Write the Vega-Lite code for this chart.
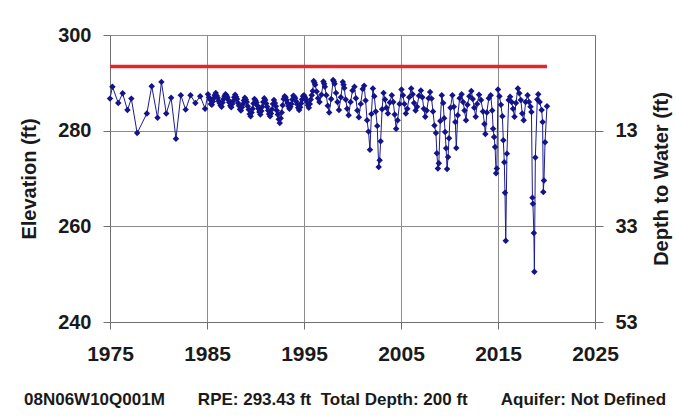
{
  "$schema": "https://vega.github.io/schema/vega-lite/v6.json",
  "autosize": "none",
  "width": 485,
  "height": 287,
  "padding": {"left": 110, "top": 35, "right": 81, "bottom": 95},
  "background": "white",
  "config": {
    "view": {"stroke": null},
    "axis": {
      "labelFont": "Liberation Sans",
      "labelFontWeight": "bold",
      "labelFontSize": 20,
      "labelColor": "#1a1a1a",
      "titleFont": "Liberation Sans",
      "titleFontWeight": "bold",
      "titleFontSize": 20,
      "titleColor": "#1a1a1a",
      "domainColor": "#707070",
      "tickColor": "#707070",
      "gridColor": "#8c8c8c",
      "gridOpacity": 1,
      "tickSize": 7,
      "labelFlush": false
    }
  },
  "title": {
    "text": "08N06W10Q001M\u00a0\u00a0\u00a0\u00a0\u00a0\u00a0\u00a0RPE: 293.43 ft\u00a0\u00a0Total Depth: 200 ft\u00a0\u00a0\u00a0\u00a0\u00a0\u00a0\u00a0Aquifer: Not Defined",
    "orient": "bottom",
    "anchor": "start",
    "frame": "group",
    "dx": -86,
    "offset": 28,
    "font": "Liberation Sans",
    "fontSize": 17,
    "fontWeight": "bold",
    "color": "#1a1a1a"
  },
  "datasets": {
    "levels": [
      {"t": 1975.0, "e": 286.7}, {"t": 1975.25, "e": 289.2}, {"t": 1975.85, "e": 285.8}, {"t": 1976.3, "e": 287.8},
      {"t": 1976.8, "e": 284.3}, {"t": 1977.2, "e": 286.7}, {"t": 1977.8, "e": 279.5}, {"t": 1978.8, "e": 283.6},
      {"t": 1979.3, "e": 289.3}, {"t": 1979.9, "e": 282.7}, {"t": 1980.3, "e": 290.2}, {"t": 1980.8, "e": 283.6},
      {"t": 1981.3, "e": 286.9}, {"t": 1981.8, "e": 278.3}, {"t": 1982.3, "e": 287.4}, {"t": 1982.8, "e": 284.4},
      {"t": 1983.3, "e": 287.4}, {"t": 1983.8, "e": 285.8}, {"t": 1984.3, "e": 287.2}, {"t": 1984.8, "e": 284.6},
      {"t": 1985.1, "e": 287.6}, {"t": 1985.2, "e": 287.0}, {"t": 1985.3, "e": 286.5}, {"t": 1985.4, "e": 285.6}, {"t": 1985.5, "e": 285.4}, {"t": 1985.6, "e": 286.1}, {"t": 1985.7, "e": 286.8}, {"t": 1985.8, "e": 287.4}, {"t": 1985.9, "e": 287.9},
      {"t": 1986.0, "e": 287.3}, {"t": 1986.1, "e": 286.9}, {"t": 1986.2, "e": 286.2}, {"t": 1986.3, "e": 285.8}, {"t": 1986.4, "e": 285.3}, {"t": 1986.5, "e": 285.0}, {"t": 1986.6, "e": 285.9}, {"t": 1986.7, "e": 286.6}, {"t": 1986.8, "e": 287.2}, {"t": 1986.9, "e": 287.6},
      {"t": 1987.0, "e": 287.4}, {"t": 1987.1, "e": 287.0}, {"t": 1987.2, "e": 286.4}, {"t": 1987.3, "e": 285.9}, {"t": 1987.4, "e": 285.2}, {"t": 1987.5, "e": 284.9}, {"t": 1987.6, "e": 285.6}, {"t": 1987.7, "e": 286.2}, {"t": 1987.8, "e": 287.0}, {"t": 1987.9, "e": 287.5},
      {"t": 1988.0, "e": 287.1}, {"t": 1988.1, "e": 286.6}, {"t": 1988.2, "e": 285.8}, {"t": 1988.3, "e": 285.2}, {"t": 1988.4, "e": 284.5}, {"t": 1988.5, "e": 284.2}, {"t": 1988.6, "e": 284.9}, {"t": 1988.7, "e": 285.5}, {"t": 1988.8, "e": 286.3}, {"t": 1988.9, "e": 286.9},
      {"t": 1989.0, "e": 286.5}, {"t": 1989.1, "e": 286.0}, {"t": 1989.2, "e": 285.1}, {"t": 1989.3, "e": 284.4}, {"t": 1989.4, "e": 283.5}, {"t": 1989.5, "e": 283.0}, {"t": 1989.6, "e": 283.8}, {"t": 1989.7, "e": 284.6}, {"t": 1989.8, "e": 285.7}, {"t": 1989.9, "e": 286.6},
      {"t": 1990.0, "e": 286.3}, {"t": 1990.1, "e": 285.9}, {"t": 1990.2, "e": 285.2}, {"t": 1990.3, "e": 284.6}, {"t": 1990.4, "e": 283.9}, {"t": 1990.5, "e": 283.4}, {"t": 1990.6, "e": 284.1}, {"t": 1990.7, "e": 285.0}, {"t": 1990.8, "e": 286.0}, {"t": 1990.9, "e": 286.8},
      {"t": 1991.0, "e": 286.4}, {"t": 1991.1, "e": 285.7}, {"t": 1991.2, "e": 285.0}, {"t": 1991.3, "e": 284.2}, {"t": 1991.4, "e": 283.5}, {"t": 1991.5, "e": 283.0}, {"t": 1991.6, "e": 283.6}, {"t": 1991.7, "e": 284.5}, {"t": 1991.8, "e": 285.6}, {"t": 1991.9, "e": 286.4},
      {"t": 1992.0, "e": 285.8}, {"t": 1992.1, "e": 285.1}, {"t": 1992.2, "e": 284.2}, {"t": 1992.3, "e": 283.4}, {"t": 1992.4, "e": 282.4}, {"t": 1992.5, "e": 281.6}, {"t": 1992.6, "e": 282.6}, {"t": 1992.7, "e": 283.8}, {"t": 1992.8, "e": 285.3}, {"t": 1992.9, "e": 286.6},
      {"t": 1993.0, "e": 287.2}, {"t": 1993.1, "e": 287.0}, {"t": 1993.2, "e": 286.4}, {"t": 1993.3, "e": 285.8}, {"t": 1993.4, "e": 285.1}, {"t": 1993.5, "e": 284.6}, {"t": 1993.6, "e": 285.0}, {"t": 1993.7, "e": 285.6}, {"t": 1993.8, "e": 286.5}, {"t": 1993.9, "e": 287.3},
      {"t": 1994.0, "e": 287.1}, {"t": 1994.1, "e": 286.8}, {"t": 1994.2, "e": 286.1}, {"t": 1994.3, "e": 285.5}, {"t": 1994.4, "e": 284.8}, {"t": 1994.5, "e": 284.3}, {"t": 1994.6, "e": 284.9}, {"t": 1994.7, "e": 285.7}, {"t": 1994.8, "e": 286.5}, {"t": 1994.9, "e": 287.2},
      {"t": 1995.0, "e": 287.4}, {"t": 1995.1, "e": 287.0}, {"t": 1995.2, "e": 286.5}, {"t": 1995.3, "e": 286.0}, {"t": 1995.4, "e": 285.3}, {"t": 1995.5, "e": 284.8}, {"t": 1995.6, "e": 285.6}, {"t": 1995.7, "e": 286.5}, {"t": 1995.8, "e": 287.4}, {"t": 1995.9, "e": 288.3},
      {"t": 1996.0, "e": 290.4}, {"t": 1996.08, "e": 290.0}, {"t": 1996.15, "e": 289.6}, {"t": 1996.3, "e": 288.2}, {"t": 1996.45, "e": 286.8}, {"t": 1996.6, "e": 286.0}, {"t": 1996.8, "e": 287.5},
      {"t": 1997.0, "e": 290.3}, {"t": 1997.08, "e": 289.8}, {"t": 1997.15, "e": 289.2}, {"t": 1997.3, "e": 287.4}, {"t": 1997.45, "e": 285.2}, {"t": 1997.6, "e": 283.8}, {"t": 1997.8, "e": 286.6},
      {"t": 1998.0, "e": 290.6}, {"t": 1998.08, "e": 290.3}, {"t": 1998.15, "e": 289.8}, {"t": 1998.3, "e": 287.9}, {"t": 1998.45, "e": 286.0}, {"t": 1998.6, "e": 284.3}, {"t": 1998.8, "e": 287.0},
      {"t": 1999.0, "e": 290.2}, {"t": 1999.08, "e": 289.6}, {"t": 1999.15, "e": 288.9}, {"t": 1999.3, "e": 286.5}, {"t": 1999.45, "e": 284.6}, {"t": 1999.6, "e": 283.2}, {"t": 1999.8, "e": 286.0},
      {"t": 2000.0, "e": 288.4}, {"t": 2000.2, "e": 289.2}, {"t": 2000.35, "e": 286.8}, {"t": 2000.5, "e": 284.2}, {"t": 2000.65, "e": 282.8}, {"t": 2000.85, "e": 285.6},
      {"t": 2001.05, "e": 288.7}, {"t": 2001.2, "e": 289.4}, {"t": 2001.35, "e": 286.3}, {"t": 2001.5, "e": 282.2}, {"t": 2001.65, "e": 279.8}, {"t": 2001.8, "e": 276.0}, {"t": 2001.95, "e": 283.5},
      {"t": 2002.1, "e": 288.8}, {"t": 2002.25, "e": 287.2}, {"t": 2002.4, "e": 284.0}, {"t": 2002.55, "e": 281.0}, {"t": 2002.7, "e": 272.4}, {"t": 2002.8, "e": 273.8}, {"t": 2002.9, "e": 277.8},
      {"t": 2003.05, "e": 284.5}, {"t": 2003.2, "e": 287.9}, {"t": 2003.35, "e": 286.5}, {"t": 2003.5, "e": 284.8}, {"t": 2003.65, "e": 283.6}, {"t": 2003.85, "e": 285.9},
      {"t": 2004.05, "e": 287.4}, {"t": 2004.2, "e": 286.0}, {"t": 2004.35, "e": 283.4}, {"t": 2004.5, "e": 280.4}, {"t": 2004.65, "e": 282.2}, {"t": 2004.85, "e": 285.6},
      {"t": 2005.05, "e": 288.6}, {"t": 2005.2, "e": 287.4}, {"t": 2005.35, "e": 285.6}, {"t": 2005.5, "e": 283.6}, {"t": 2005.65, "e": 284.6}, {"t": 2005.85, "e": 287.0},
      {"t": 2006.05, "e": 288.8}, {"t": 2006.2, "e": 287.6}, {"t": 2006.35, "e": 285.8}, {"t": 2006.5, "e": 284.2}, {"t": 2006.65, "e": 285.0}, {"t": 2006.85, "e": 287.3},
      {"t": 2007.05, "e": 288.4}, {"t": 2007.2, "e": 287.0}, {"t": 2007.35, "e": 284.6}, {"t": 2007.5, "e": 282.9}, {"t": 2007.65, "e": 284.2}, {"t": 2007.85, "e": 286.8},
      {"t": 2008.0, "e": 288.1}, {"t": 2008.15, "e": 286.7}, {"t": 2008.3, "e": 284.0}, {"t": 2008.45, "e": 281.1}, {"t": 2008.6, "e": 279.5}, {"t": 2008.7, "e": 275.3}, {"t": 2008.8, "e": 272.1}, {"t": 2008.9, "e": 273.2},
      {"t": 2009.05, "e": 282.0}, {"t": 2009.2, "e": 287.4}, {"t": 2009.35, "e": 285.8}, {"t": 2009.45, "e": 282.6}, {"t": 2009.55, "e": 279.7}, {"t": 2009.65, "e": 276.3}, {"t": 2009.75, "e": 272.0}, {"t": 2009.85, "e": 274.5}, {"t": 2009.95, "e": 278.4},
      {"t": 2010.1, "e": 284.8}, {"t": 2010.3, "e": 287.4}, {"t": 2010.45, "e": 285.0}, {"t": 2010.6, "e": 281.8}, {"t": 2010.7, "e": 276.4}, {"t": 2010.85, "e": 283.2},
      {"t": 2011.05, "e": 286.8}, {"t": 2011.25, "e": 287.6}, {"t": 2011.4, "e": 286.0}, {"t": 2011.55, "e": 284.2}, {"t": 2011.7, "e": 282.2}, {"t": 2011.85, "e": 285.4},
      {"t": 2012.05, "e": 287.2}, {"t": 2012.25, "e": 288.3}, {"t": 2012.4, "e": 286.6}, {"t": 2012.55, "e": 284.8}, {"t": 2012.7, "e": 282.9}, {"t": 2012.85, "e": 285.6},
      {"t": 2013.05, "e": 287.5}, {"t": 2013.25, "e": 286.4}, {"t": 2013.45, "e": 284.0}, {"t": 2013.6, "e": 281.4}, {"t": 2013.7, "e": 279.3}, {"t": 2013.85, "e": 283.8},
      {"t": 2014.05, "e": 286.8}, {"t": 2014.25, "e": 287.4}, {"t": 2014.4, "e": 284.2}, {"t": 2014.5, "e": 280.4}, {"t": 2014.6, "e": 278.7}, {"t": 2014.7, "e": 276.6}, {"t": 2014.8, "e": 271.1}, {"t": 2014.88, "e": 272.1},
      {"t": 2015.0, "e": 288.6}, {"t": 2015.15, "e": 287.2}, {"t": 2015.3, "e": 285.4}, {"t": 2015.45, "e": 283.0}, {"t": 2015.55, "e": 278.0}, {"t": 2015.65, "e": 273.4}, {"t": 2015.72, "e": 267.0}, {"t": 2015.8, "e": 257.0}, {"t": 2015.92, "e": 275.2},
      {"t": 2016.1, "e": 286.4}, {"t": 2016.25, "e": 287.1}, {"t": 2016.4, "e": 286.0}, {"t": 2016.55, "e": 284.6}, {"t": 2016.7, "e": 282.9}, {"t": 2016.85, "e": 285.8},
      {"t": 2017.05, "e": 288.8}, {"t": 2017.2, "e": 287.8}, {"t": 2017.35, "e": 286.4}, {"t": 2017.5, "e": 283.6}, {"t": 2017.65, "e": 282.2}, {"t": 2017.85, "e": 286.0},
      {"t": 2018.05, "e": 287.4}, {"t": 2018.2, "e": 286.0}, {"t": 2018.35, "e": 285.0}, {"t": 2018.45, "e": 283.9}, {"t": 2018.55, "e": 266.0}, {"t": 2018.6, "e": 264.7}, {"t": 2018.7, "e": 258.6}, {"t": 2018.75, "e": 250.5}, {"t": 2018.85, "e": 274.4},
      {"t": 2019.05, "e": 286.5}, {"t": 2019.15, "e": 287.6}, {"t": 2019.3, "e": 286.0}, {"t": 2019.5, "e": 284.3}, {"t": 2019.6, "e": 281.8}, {"t": 2019.67, "e": 267.2}, {"t": 2019.74, "e": 269.6}, {"t": 2019.85, "e": 277.6}, {"t": 2020.05, "e": 285.1}
    ],
    "rpe": [
      {"t": 1975.0, "e": 293.43},
      {"t": 2020.05, "e": 293.43}
    ]
  },
  "layer": [
    {
      "data": {"name": "levels"},
      "mark": {"type": "line", "color": "#1c1c8e", "strokeWidth": 1, "point": {"shape": "diamond", "filled": true, "size": 42, "color": "#14148a"}},
      "encoding": {
        "x": {
          "field": "t", "type": "quantitative",
          "scale": {"domain": [1975, 2025], "nice": false, "zero": false},
          "axis": {"values": [1975, 1985, 1995, 2005, 2015, 2025], "format": "d", "title": null, "grid": true, "labelPadding": 14, "labelFontSize": 21}
        },
        "y": {
          "field": "e", "type": "quantitative",
          "scale": {"domain": [240, 300], "nice": false, "zero": false},
          "axis": {"values": [240, 260, 280, 300], "title": "Elevation (ft)", "grid": true, "labelPadding": 12, "titlePadding": 18}
        }
      }
    },
    {
      "data": {"name": "rpe"},
      "mark": {"type": "line", "color": "#e4262b", "strokeWidth": 3.5},
      "encoding": {
        "x": {"field": "t", "type": "quantitative"},
        "y": {
          "field": "e", "type": "quantitative",
          "scale": {"domain": [240, 300], "nice": false, "zero": false},
          "axis": {"orient": "right", "values": [240, 260, 280], "labelExpr": "format(293.43 - datum.value, '.0f')", "grid": false, "tickSize": 8, "labelPadding": 12, "title": "Depth to Water (ft)", "titleAngle": 270, "titlePadding": 34}
        }
      }
    }
  ],
  "resolve": {"scale": {"y": "independent"}}
}
